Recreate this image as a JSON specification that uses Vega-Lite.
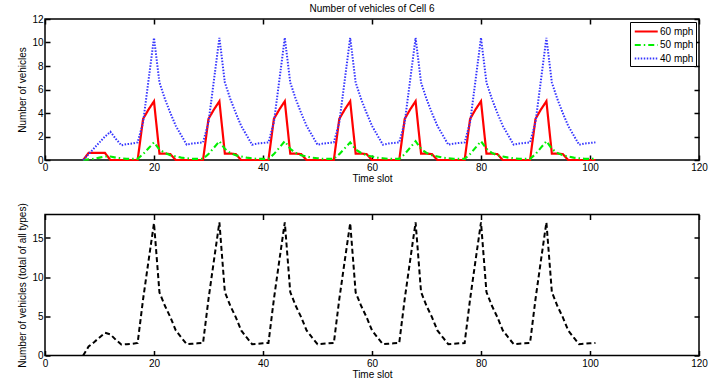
{
  "$schema": "https://vega.github.io/schema/vega-lite/v6.json",
  "autosize": {"type": "pad"},
  "padding": {"left": 17, "top": 3, "right": 0, "bottom": 0},
  "background": "white",
  "spacing": 54.5,
  "bounds": "flush",
  "datasets": {
    "d": [
      {"t":7,"r":0,"g":0,"b":0,"tot":0},
      {"t":8,"r":0.6,"g":0.05,"b":0.5,"tot":1.15},
      {"t":9,"r":0.6,"g":0.1,"b":1.0,"tot":1.7},
      {"t":10,"r":0.6,"g":0.2,"b":1.5,"tot":2.3},
      {"t":11,"r":0.6,"g":0.3,"b":2.0,"tot":2.9},
      {"t":12,"r":0,"g":0.3,"b":2.4,"tot":2.7},
      {"t":13,"r":0,"g":0.2,"b":1.8,"tot":2.0},
      {"t":14,"r":0,"g":0.15,"b":1.25,"tot":1.4},
      {"t":15,"r":0,"g":0.1,"b":1.35,"tot":1.45},
      {"t":16,"r":0,"g":0.1,"b":1.4,"tot":1.5},
      {"t":17,"r":0,"g":0.1,"b":1.5,"tot":1.6},
      {"t":18,"r":3.5,"g":0.5,"b":3.2,"tot":7.2},
      {"t":19,"r":4.3,"g":1.0,"b":6.8,"tot":12.1},
      {"t":20,"r":5.0,"g":1.5,"b":10.4,"tot":16.9},
      {"t":21,"r":0.55,"g":0.9,"b":6.6,"tot":8.05},
      {"t":22,"r":0.55,"g":0.6,"b":5.2,"tot":6.35},
      {"t":23,"r":0.5,"g":0.4,"b":4.0,"tot":4.9},
      {"t":24,"r":0,"g":0.3,"b":2.9,"tot":3.2},
      {"t":25,"r":0,"g":0.2,"b":2.1,"tot":2.3},
      {"t":26,"r":0,"g":0.15,"b":1.3,"tot":1.45},
      {"t":27,"r":0,"g":0.1,"b":1.4,"tot":1.5},
      {"t":28,"r":0,"g":0.1,"b":1.45,"tot":1.55},
      {"t":29,"r":0,"g":0.1,"b":1.5,"tot":1.6},
      {"t":30,"r":3.5,"g":0.5,"b":3.2,"tot":7.2},
      {"t":31,"r":4.3,"g":1.05,"b":6.8,"tot":12.15},
      {"t":32,"r":5.0,"g":1.6,"b":10.4,"tot":17.0},
      {"t":33,"r":0.55,"g":0.95,"b":6.6,"tot":8.1},
      {"t":34,"r":0.55,"g":0.6,"b":5.2,"tot":6.35},
      {"t":35,"r":0.5,"g":0.4,"b":4.0,"tot":4.9},
      {"t":36,"r":0,"g":0.3,"b":2.9,"tot":3.2},
      {"t":37,"r":0,"g":0.2,"b":2.1,"tot":2.3},
      {"t":38,"r":0,"g":0.15,"b":1.3,"tot":1.45},
      {"t":39,"r":0,"g":0.1,"b":1.4,"tot":1.5},
      {"t":40,"r":0,"g":0.1,"b":1.45,"tot":1.55},
      {"t":41,"r":0,"g":0.1,"b":1.5,"tot":1.6},
      {"t":42,"r":3.5,"g":0.5,"b":3.2,"tot":7.2},
      {"t":43,"r":4.3,"g":1.05,"b":6.8,"tot":12.15},
      {"t":44,"r":5.0,"g":1.6,"b":10.4,"tot":17.0},
      {"t":45,"r":0.55,"g":0.95,"b":6.6,"tot":8.1},
      {"t":46,"r":0.55,"g":0.6,"b":5.2,"tot":6.35},
      {"t":47,"r":0.5,"g":0.4,"b":4.0,"tot":4.9},
      {"t":48,"r":0,"g":0.3,"b":2.9,"tot":3.2},
      {"t":49,"r":0,"g":0.2,"b":2.1,"tot":2.3},
      {"t":50,"r":0,"g":0.15,"b":1.3,"tot":1.45},
      {"t":51,"r":0,"g":0.1,"b":1.4,"tot":1.5},
      {"t":52,"r":0,"g":0.1,"b":1.45,"tot":1.55},
      {"t":53,"r":0,"g":0.1,"b":1.5,"tot":1.6},
      {"t":54,"r":3.5,"g":0.5,"b":3.2,"tot":7.2},
      {"t":55,"r":4.3,"g":1.0,"b":6.8,"tot":12.1},
      {"t":56,"r":5.0,"g":1.5,"b":10.4,"tot":16.9},
      {"t":57,"r":0.55,"g":0.9,"b":6.6,"tot":8.05},
      {"t":58,"r":0.55,"g":0.6,"b":5.2,"tot":6.35},
      {"t":59,"r":0.5,"g":0.4,"b":4.0,"tot":4.9},
      {"t":60,"r":0,"g":0.3,"b":2.9,"tot":3.2},
      {"t":61,"r":0,"g":0.2,"b":2.1,"tot":2.3},
      {"t":62,"r":0,"g":0.15,"b":1.3,"tot":1.45},
      {"t":63,"r":0,"g":0.1,"b":1.4,"tot":1.5},
      {"t":64,"r":0,"g":0.1,"b":1.45,"tot":1.55},
      {"t":65,"r":0,"g":0.1,"b":1.5,"tot":1.6},
      {"t":66,"r":3.5,"g":0.5,"b":3.2,"tot":7.2},
      {"t":67,"r":4.3,"g":1.05,"b":6.8,"tot":12.15},
      {"t":68,"r":5.0,"g":1.6,"b":10.4,"tot":17.0},
      {"t":69,"r":0.55,"g":0.95,"b":6.6,"tot":8.1},
      {"t":70,"r":0.55,"g":0.6,"b":5.2,"tot":6.35},
      {"t":71,"r":0.5,"g":0.4,"b":4.0,"tot":4.9},
      {"t":72,"r":0,"g":0.3,"b":2.9,"tot":3.2},
      {"t":73,"r":0,"g":0.2,"b":2.1,"tot":2.3},
      {"t":74,"r":0,"g":0.15,"b":1.3,"tot":1.45},
      {"t":75,"r":0,"g":0.1,"b":1.4,"tot":1.5},
      {"t":76,"r":0,"g":0.1,"b":1.45,"tot":1.55},
      {"t":77,"r":0,"g":0.1,"b":1.5,"tot":1.6},
      {"t":78,"r":3.5,"g":0.5,"b":3.2,"tot":7.2},
      {"t":79,"r":4.3,"g":1.05,"b":6.8,"tot":12.15},
      {"t":80,"r":5.0,"g":1.6,"b":10.4,"tot":17.0},
      {"t":81,"r":0.55,"g":0.95,"b":6.6,"tot":8.1},
      {"t":82,"r":0.55,"g":0.6,"b":5.2,"tot":6.35},
      {"t":83,"r":0.5,"g":0.4,"b":4.0,"tot":4.9},
      {"t":84,"r":0,"g":0.3,"b":2.9,"tot":3.2},
      {"t":85,"r":0,"g":0.2,"b":2.1,"tot":2.3},
      {"t":86,"r":0,"g":0.15,"b":1.3,"tot":1.45},
      {"t":87,"r":0,"g":0.1,"b":1.4,"tot":1.5},
      {"t":88,"r":0,"g":0.1,"b":1.45,"tot":1.55},
      {"t":89,"r":0,"g":0.1,"b":1.5,"tot":1.6},
      {"t":90,"r":3.5,"g":0.5,"b":3.2,"tot":7.2},
      {"t":91,"r":4.3,"g":1.05,"b":6.8,"tot":12.15},
      {"t":92,"r":5.0,"g":1.6,"b":10.4,"tot":17.0},
      {"t":93,"r":0.55,"g":0.95,"b":6.6,"tot":8.1},
      {"t":94,"r":0.55,"g":0.6,"b":5.2,"tot":6.35},
      {"t":95,"r":0.5,"g":0.4,"b":4.0,"tot":4.9},
      {"t":96,"r":0,"g":0.3,"b":2.9,"tot":3.2},
      {"t":97,"r":0,"g":0.2,"b":2.1,"tot":2.3},
      {"t":98,"r":0,"g":0.15,"b":1.3,"tot":1.45},
      {"t":99,"r":0,"g":0.1,"b":1.4,"tot":1.5},
      {"t":100,"r":0,"g":0.1,"b":1.45,"tot":1.55},
      {"t":101,"r":0,"g":0.1,"b":1.5,"tot":1.6}
    ]
  },
  "config": {
    "font": "Liberation Sans",
    "view": {"stroke": "black", "strokeWidth": 1.5},
    "axis": {
      "domain": false, "grid": false,
      "tickColor": "black", "tickWidth": 1.5, "tickSize": -5,
      "labelPadding": 7.5, "labelFontSize": 10, "labelColor": "black", "labelFlush": false,
      "labelFont": "Liberation Sans", "titleFont": "Liberation Sans",
      "titleFontSize": 10, "titleFontWeight": "normal", "titleColor": "black", "titlePadding": 1
    },
    "axisY": {"labelPadding": 7, "titlePadding": 4},
    "title": {"fontSize": 10, "fontWeight": "normal", "font": "Liberation Sans", "color": "black"}
  },
  "vconcat": [
    {
      "width": 654, "height": 141,
      "title": {"text": "Number of vehicles of Cell 6", "anchor": "middle", "offset": -8, "baseline": "alphabetic"},
      "data": {"name": "d"},
      "transform": [{"fold": ["r", "g", "b"], "as": ["speed", "n"]}],
      "layer": [
        {
          "mark": {"type": "line"},
          "encoding": {
            "x": {"field": "t", "type": "quantitative", "scale": {"domain": [0, 120], "nice": false},
                  "axis": {"values": [0, 20, 40, 60, 80, 100, 120], "title": "Time slot"}},
            "y": {"field": "n", "type": "quantitative", "scale": {"domain": [0, 12], "nice": false},
                  "axis": {"values": [0, 2, 4, 6, 8, 10, 12], "title": "Number of vehicles"}},
            "color": {"field": "speed", "type": "nominal",
                      "scale": {"domain": ["r", "g", "b"], "range": ["#ff0000", "#00ee00", "#3535ff"]},
                      "legend": {"title": null, "orient": "top-right", "offset": 3, "strokeColor": "black",
                                 "fillColor": "white", "padding": 2.5, "symbolType": "M-1,0H3", "symbolSize": 132,
                                 "symbolStrokeWidth": 2, "symbolOffset": 1, "labelFontSize": 10, "labelOffset": 12.5, "rowPadding": 1.5,
                                 "labelColor": "black",
                                 "labelExpr": "datum.label == 'r' ? '60 mph' : datum.label == 'g' ? '50 mph' : '40 mph'"}},
            "strokeDash": {"field": "speed", "type": "nominal",
                           "scale": {"domain": ["r", "g", "b"], "range": [[1, 0], [6, 3, 1.5, 3], [1.5, 1.5]]},
                           "legend": {"title": null, "orient": "top-right", "offset": 3, "strokeColor": "black",
                                 "fillColor": "white", "padding": 2.5, "symbolType": "M-1,0H3", "symbolSize": 132,
                                 "symbolStrokeWidth": 2, "symbolOffset": 1, "labelFontSize": 10, "labelOffset": 12.5, "rowPadding": 1.5,
                                 "labelColor": "black",
                                 "labelExpr": "datum.label == 'r' ? '60 mph' : datum.label == 'g' ? '50 mph' : '40 mph'"}},
            "strokeWidth": {"field": "speed", "type": "nominal",
                            "scale": {"domain": ["r", "g", "b"], "range": [2.2, 2, 1.3]}, "legend": null}
          }
        },
        {
          "mark": {"type": "line", "opacity": 0},
          "encoding": {
            "x": {"field": "t", "type": "quantitative", "scale": {"domain": [0, 120], "nice": false},
                  "axis": {"orient": "top", "values": [0, 20, 40, 60, 80, 100, 120], "labels": false, "title": null}},
            "y": {"field": "n", "type": "quantitative", "scale": {"domain": [0, 12], "nice": false},
                  "axis": {"orient": "right", "values": [0, 2, 4, 6, 8, 10, 12], "labels": false, "title": null}}
          }
        }
      ],
      "resolve": {"axis": {"x": "independent", "y": "independent"}}
    },
    {
      "width": 654, "height": 141,
      "data": {"name": "d"},
      "layer": [
        {
          "mark": {"type": "line", "color": "black", "strokeWidth": 2, "strokeDash": [5, 3]},
          "encoding": {
            "x": {"field": "t", "type": "quantitative", "scale": {"domain": [0, 120], "nice": false},
                  "axis": {"values": [0, 20, 40, 60, 80, 100, 120], "title": "Time slot"}},
            "y": {"field": "tot", "type": "quantitative", "scale": {"domain": [0, 18], "nice": false},
                  "axis": {"values": [0, 5, 10, 15], "title": "Number of vehicles (total of all types)"}}
          }
        },
        {
          "mark": {"type": "line", "opacity": 0},
          "encoding": {
            "x": {"field": "t", "type": "quantitative", "scale": {"domain": [0, 120], "nice": false},
                  "axis": {"orient": "top", "values": [0, 20, 40, 60, 80, 100, 120], "labels": false, "title": null}},
            "y": {"field": "tot", "type": "quantitative", "scale": {"domain": [0, 18], "nice": false},
                  "axis": {"orient": "right", "values": [0, 5, 10, 15], "labels": false, "title": null}}
          }
        }
      ],
      "resolve": {"axis": {"x": "independent", "y": "independent"}}
    }
  ]
}
